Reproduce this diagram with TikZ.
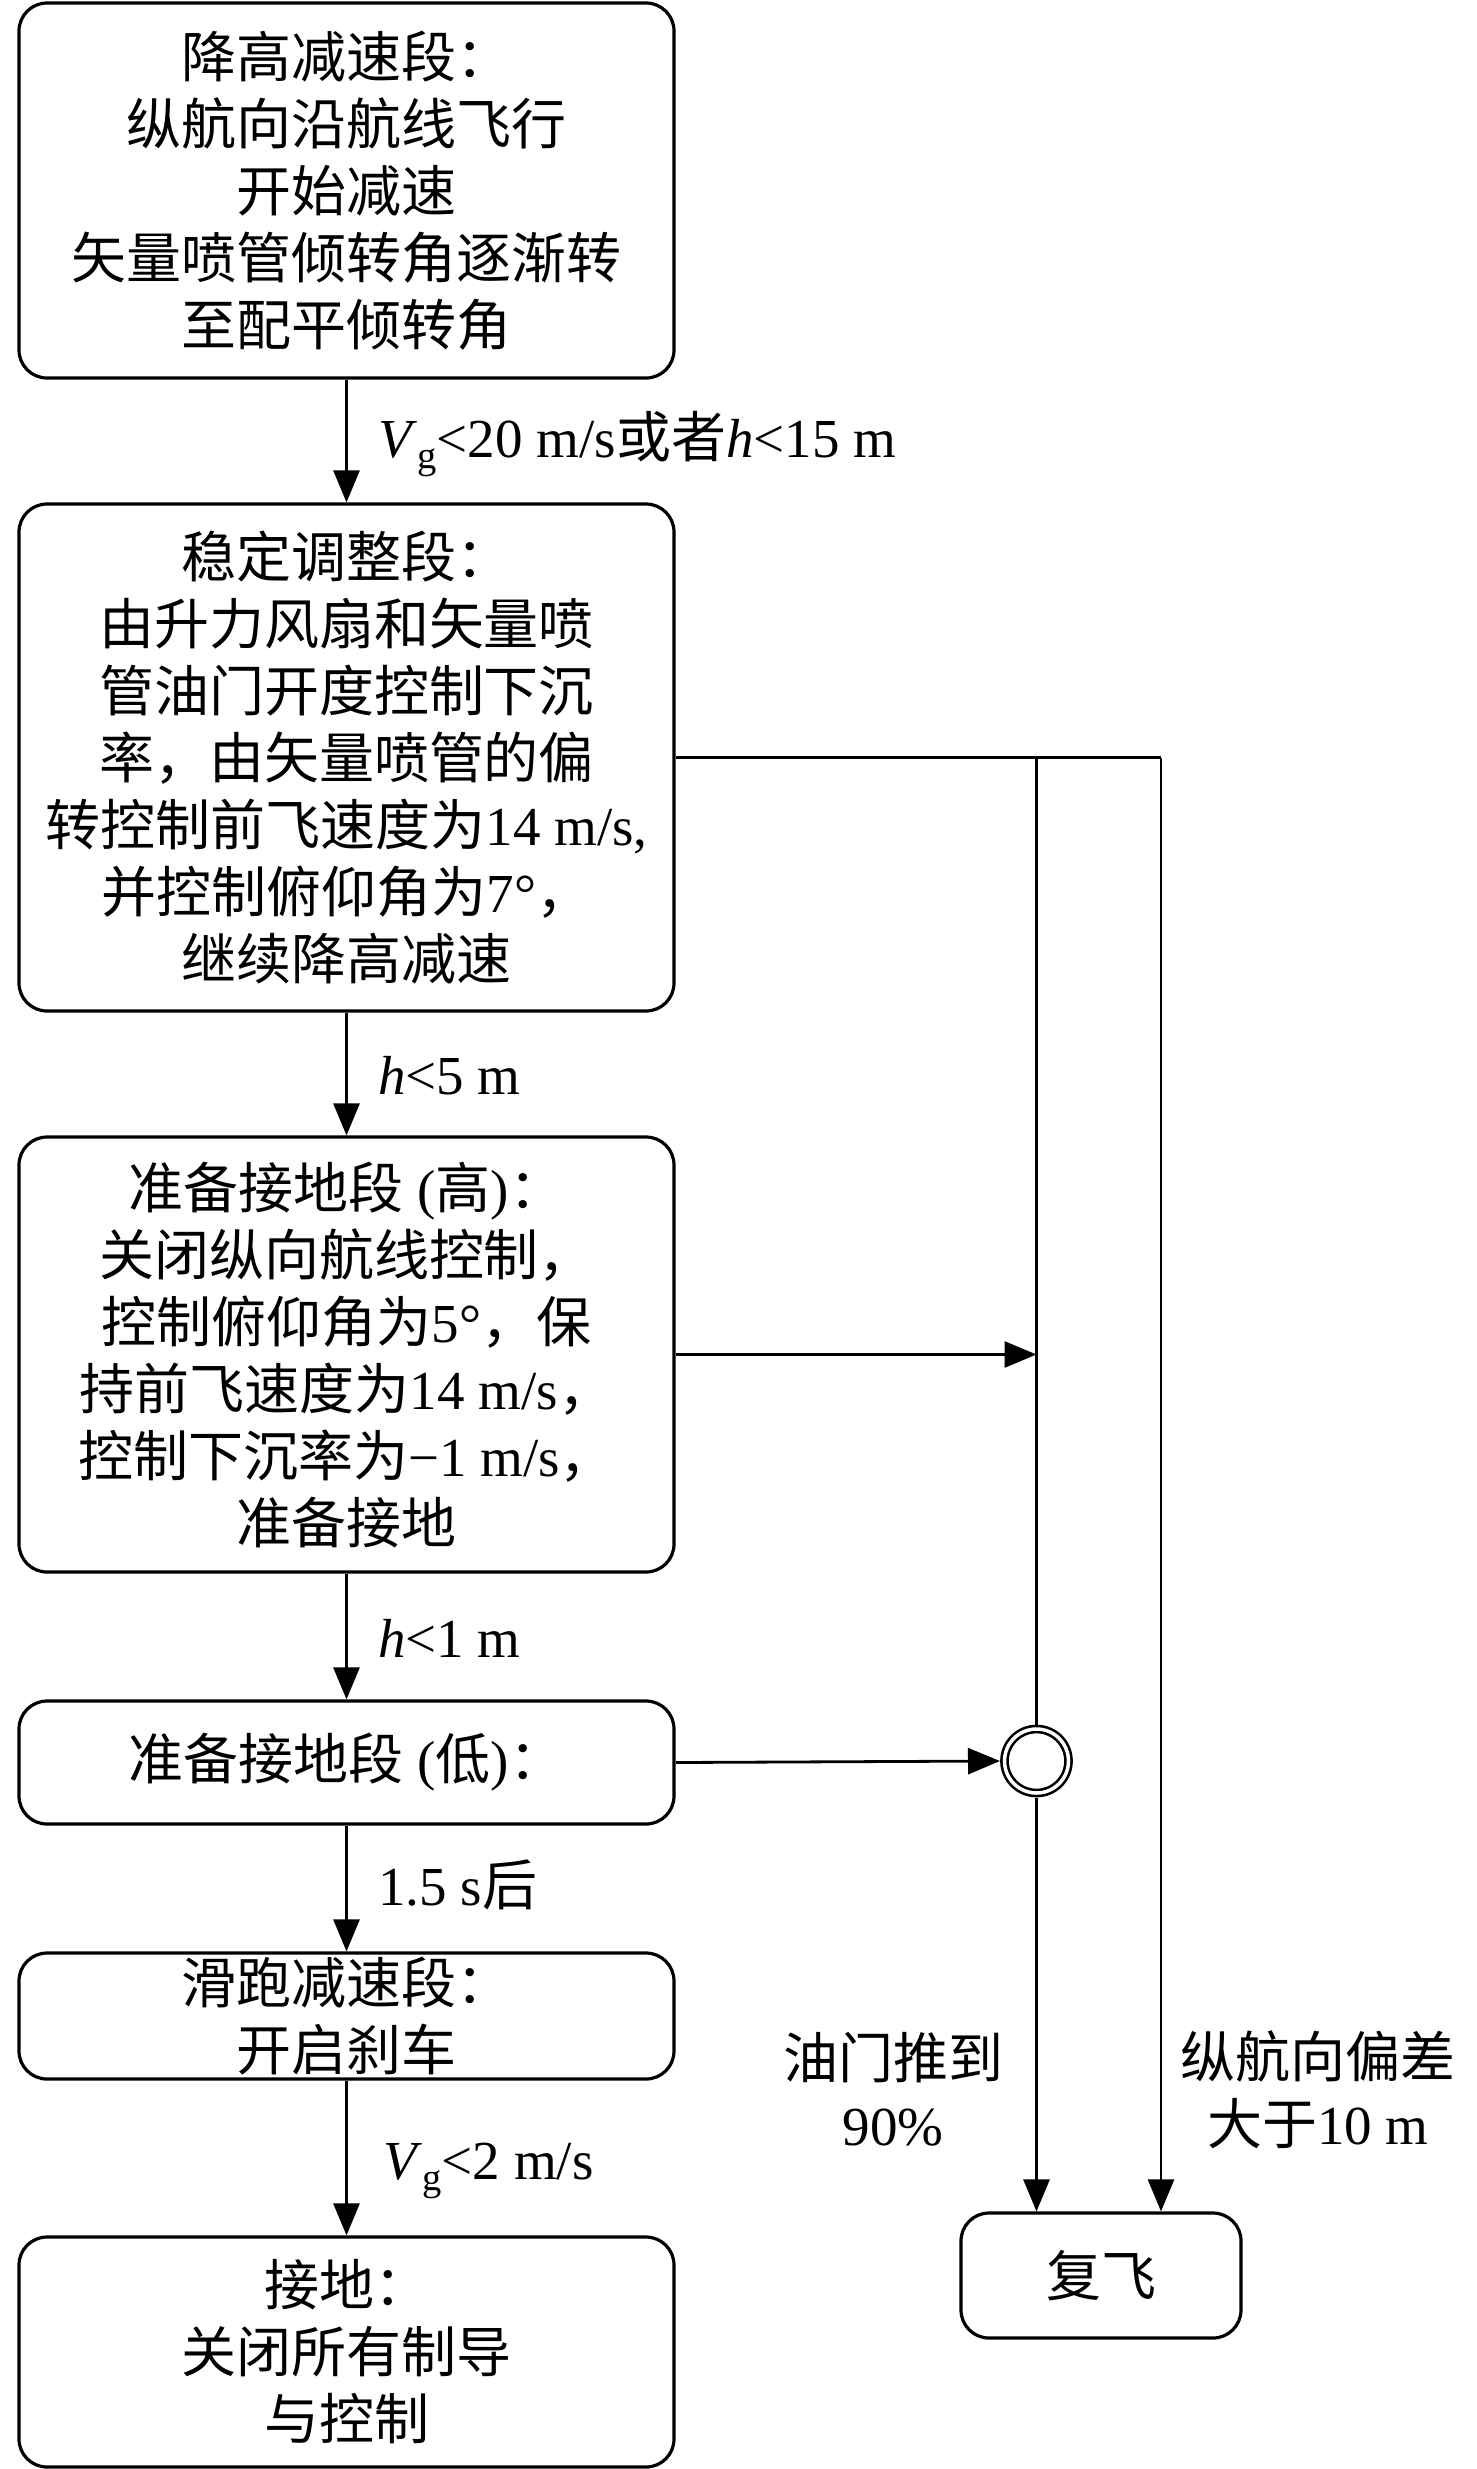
\documentclass[tikz,border=0pt]{standalone}
\usepackage{fontspec}
\setmainfont{Liberation Serif}
\newfontfamily\cjk{Noto Sans CJK SC}
\newcommand\zh[1]{{\cjk #1}}
\usetikzlibrary{arrows.meta}
\begin{document}
\begin{tikzpicture}[x=1pt,y=-1pt,
  box/.style={draw, line width=3.2pt, rounded corners=28pt, minimum width=655pt, inner sep=0pt, align=center, font=\fontsize{55}{67}\selectfont},
  line/.style={line width=2.8pt},
  conn/.style={line width=2.8pt, -{Triangle[length=32pt,width=26pt]}},
  lab/.style={font=\fontsize{55}{67}\selectfont, anchor=west, inner sep=0pt, align=center},
  clab/.style={font=\fontsize{55}{67}\selectfont, inner sep=0pt, align=center}]
\useasboundingbox (0,0) rectangle (1476,2469);
\node[box, minimum height=375pt] (b1) at (346.5,190.5) {\zh{降高减速段：}\\ \zh{纵航向沿航线飞行}\\ \zh{开始减速}\\ \zh{矢量喷管倾转角逐渐转}\\ \zh{至配平倾转角}};
\node[box, minimum height=507pt] (b2) at (346.5,757.5) {\zh{稳定调整段：}\\ \zh{由升力风扇和矢量喷}\\ \zh{管油门开度控制下沉}\\ \zh{率，由矢量喷管的偏}\\ \zh{转控制前飞速度为}14 m/s,\\ \zh{并控制俯仰角为}7°\zh{，}\\ \zh{继续降高减速}};
\node[box, minimum height=435pt] (b3) at (346.5,1354.5) {\zh{准备接地段} (\zh{高})\zh{：}\\ \zh{关闭纵向航线控制，}\\ \zh{控制俯仰角为}5°\zh{，保}\\ \zh{持前飞速度为}14 m/s\zh{，}\\ \zh{控制下沉率为}−1 m/s\zh{，}\\ \zh{准备接地}};
\node[box, minimum height=123pt] (b4) at (346.5,1762.5) {\zh{准备接地段} (\zh{低})\zh{：}};
\node[box, minimum height=126pt] (b5) at (346.5,2016) {\zh{滑跑减速段：}\\ \zh{开启刹车}};
\node[box, minimum height=230pt] (b6) at (346.5,2352) {\zh{接地：}\\ \zh{关闭所有制导}\\ \zh{与控制}};
\node[box, minimum width=280pt, minimum height=125pt] (fly) at (1101,2275.5) {\zh{复飞}};
\node[circle, draw, double, double distance=3.5pt, line width=2.6pt, minimum size=64pt, inner sep=0pt, outer sep=4.5pt] (c) at (1036.5,1761) {};
\coordinate (j1) at (1036.5,757.5);
\coordinate (j2) at (1161,757.5);
\draw[conn] (b1.south) -- (b2.north);
\draw[conn] (b2.south) -- (b3.north);
\draw[conn] (b3.south) -- (b4.north);
\draw[conn] (b4.south) -- (b5.north);
\draw[conn] (b5.south) -- (b6.north);
\node[lab] (l1) at (378,444) {\textit{V}\textsubscript{g}<20 m/s\zh{或者}\textit{h}<15 m};
\node[lab] (l2) at (378,1076) {\textit{h}<5 m};
\node[lab] (l3) at (378,1638) {\textit{h}<1 m};
\node[lab] (l4) at (378,1885) {1.5 s\zh{后}};
\node[lab] (l5) at (383,2171) {\textit{V}\textsubscript{g}<2 m/s};
\draw[line] (b2.east) -- (j2);
\draw[line] (j1) -- (c.north);
\draw[conn] (c.south) -- (c.south |- fly.north);
\draw[conn] (j2) -- (j2 |- fly.north);
\draw[conn] (b3.east) -- (b3.east -| j1);
\draw[conn] (b4.east) -- (c.west);
\node[clab] (l6) at (893,2089.5) {\zh{油门推到}\\90\%};
\node[clab] (l7) at (1318,2089.5) {\zh{纵航向偏差}\\\zh{大于}10 m};
\end{tikzpicture}
\end{document}
